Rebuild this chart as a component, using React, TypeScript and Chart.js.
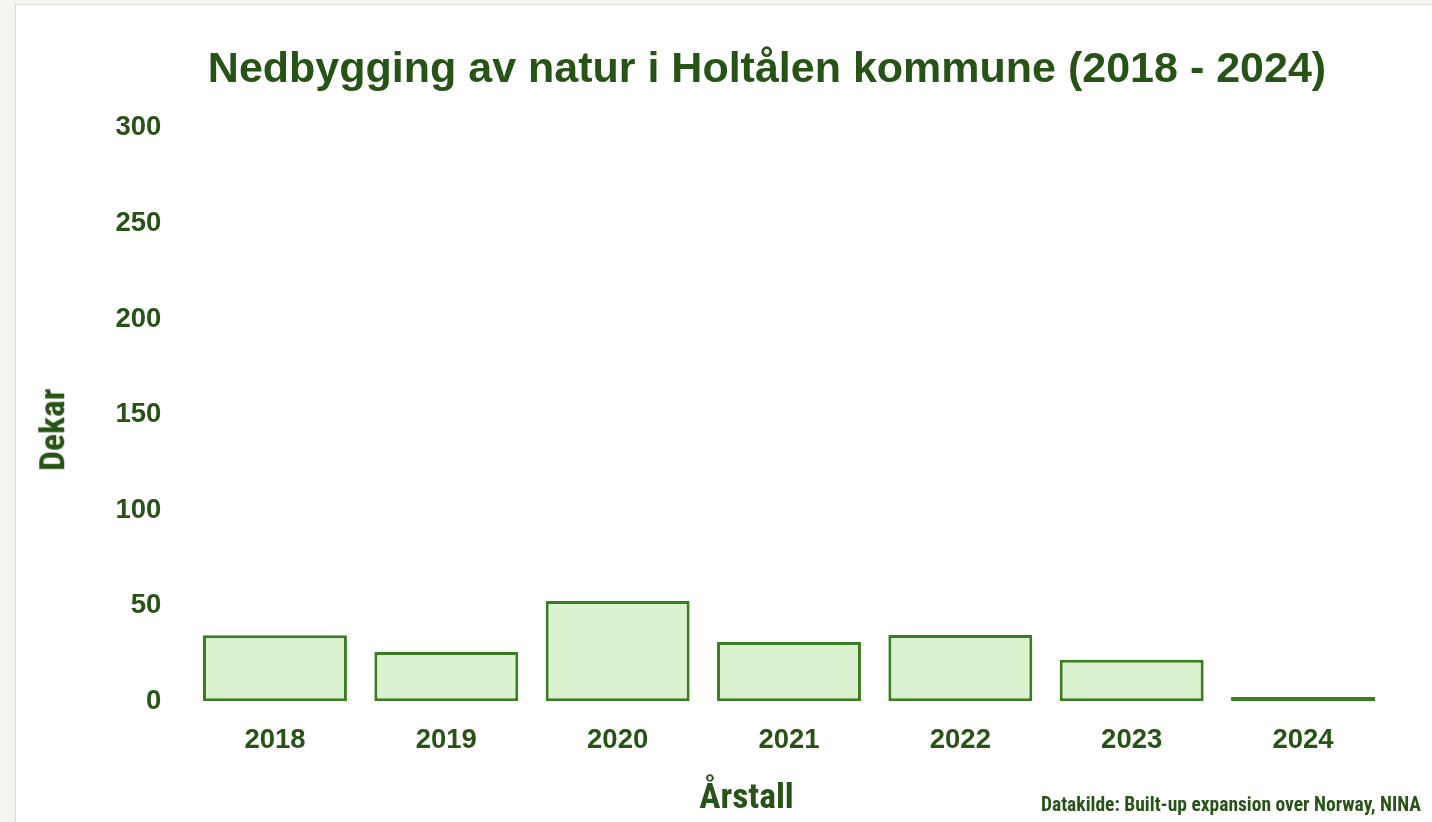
import React, { useEffect, useRef } from "react";
import { Chart, registerables } from "chart.js";

Chart.register(...registerables);

const categories: string[] = ["2018", "2019", "2020", "2021", "2022", "2023", "2024"];
const dekarValues: number[] = [34.5, 25.8, 52.5, 31.0, 34.7, 21.8, 2.2];
const yMin = 0;
const yMax = 300;
const yStep = 50;

const chartTitle = "Nedbygging av natur i Holtålen kommune (2018 - 2024)";
const xTitle = "Årstall";
const yTitle = "Dekar";
const sourceText = "Datakilde: Built-up expansion over Norway, NINA";

const TEXT = "#275317";
const BAR_FILL = "#daf2d0";
const BAR_BORDER = "#3a7d22";
const SANS = "'Liberation Sans', Arial, sans-serif";
const NARROW = "'Liberation Sans Narrow', 'Arial Narrow', 'Roboto Condensed', sans-serif";

export default function App() {
  const ref = useRef<HTMLCanvasElement | null>(null);

  useEffect(() => {
    document.body.style.margin = "0";
    document.body.style.overflow = "hidden";
    const canvas = ref.current;
    if (!canvas) return;
    const tickFont = { family: SANS, size: 27.5, weight: "bold" as const };
    const chart = new Chart(canvas, {
      type: "bar",
      data: {
        labels: categories,
        datasets: [
          {
            label: "Dekar",
            data: dekarValues,
            backgroundColor: BAR_FILL,
            borderColor: BAR_BORDER,
            borderWidth: 3,
            borderSkipped: false,
            categoryPercentage: 1,
            barPercentage: 0.84,
          },
        ],
      },
      options: {
        animation: false,
        responsive: false,
        devicePixelRatio: 1,
        layout: { padding: { top: 122.9, right: 43.3, left: 0, bottom: 0 } },
        plugins: {
          legend: { display: false },
          title: { display: false },
          tooltip: { enabled: false },
        },
        scales: {
          x: {
            grid: { display: false },
            border: { display: false },
            ticks: { color: TEXT, font: tickFont, padding: 14.5, maxRotation: 0 },
            afterFit: (s: any) => {
              s.height = 120.7;
            },
          },
          y: {
            min: yMin,
            max: yMax,
            grid: { display: false },
            border: { display: false },
            ticks: { stepSize: yStep, color: TEXT, font: tickFont, padding: 20 },
            afterFit: (s: any) => {
              s.width = 173.3;
            },
          },
        },
      },
    });
    return () => chart.destroy();
  }, []);

  return (
    <div
      style={{
        position: "relative",
        width: 1432,
        height: 822,
        overflow: "hidden",
        background: "#f5f5f0",
      }}
    >
      <div
        style={{
          position: "absolute",
          left: 15,
          top: 4,
          width: 1500,
          height: 900,
          background: "#ffffff",
          border: "1px solid #d9d9d6",
        }}
      />
      <canvas
        ref={ref}
        width={1416}
        height={817}
        style={{ position: "absolute", left: 16, top: 5, width: 1416, height: 817 }}
      />
      <div
        style={{
          position: "absolute",
          left: 767,
          top: 45.6,
          transform: "translateX(-50%)",
          whiteSpace: "nowrap",
          fontFamily: SANS,
          fontWeight: "bold",
          fontSize: 43,
          lineHeight: "43px",
          color: TEXT,
        }}
      >
        {chartTitle}
      </div>
      <div
        style={{
          position: "absolute",
          left: 53.4 - 60,
          top: 430 - 17.75,
          width: 120,
          height: 35.5,
          textAlign: "center",
          transform: "rotate(-90deg)",
          whiteSpace: "nowrap",
          fontFamily: NARROW,
          fontWeight: "bold",
          fontSize: 35.5,
          lineHeight: "35.5px",
          color: TEXT,
        }}
      >
        {yTitle}
      </div>
      <div
        style={{
          position: "absolute",
          left: 746.5,
          top: 779.4,
          transform: "translateX(-50%)",
          whiteSpace: "nowrap",
          fontFamily: NARROW,
          fontWeight: "bold",
          fontSize: 35.5,
          lineHeight: "35.5px",
          color: TEXT,
        }}
      >
        {xTitle}
      </div>
      <div
        style={{
          position: "absolute",
          right: 11,
          top: 794.5,
          whiteSpace: "nowrap",
          fontFamily: NARROW,
          fontWeight: "bold",
          fontSize: 19.5,
          lineHeight: "19.5px",
          color: TEXT,
        }}
      >
        {sourceText}
      </div>
    </div>
  );
}
